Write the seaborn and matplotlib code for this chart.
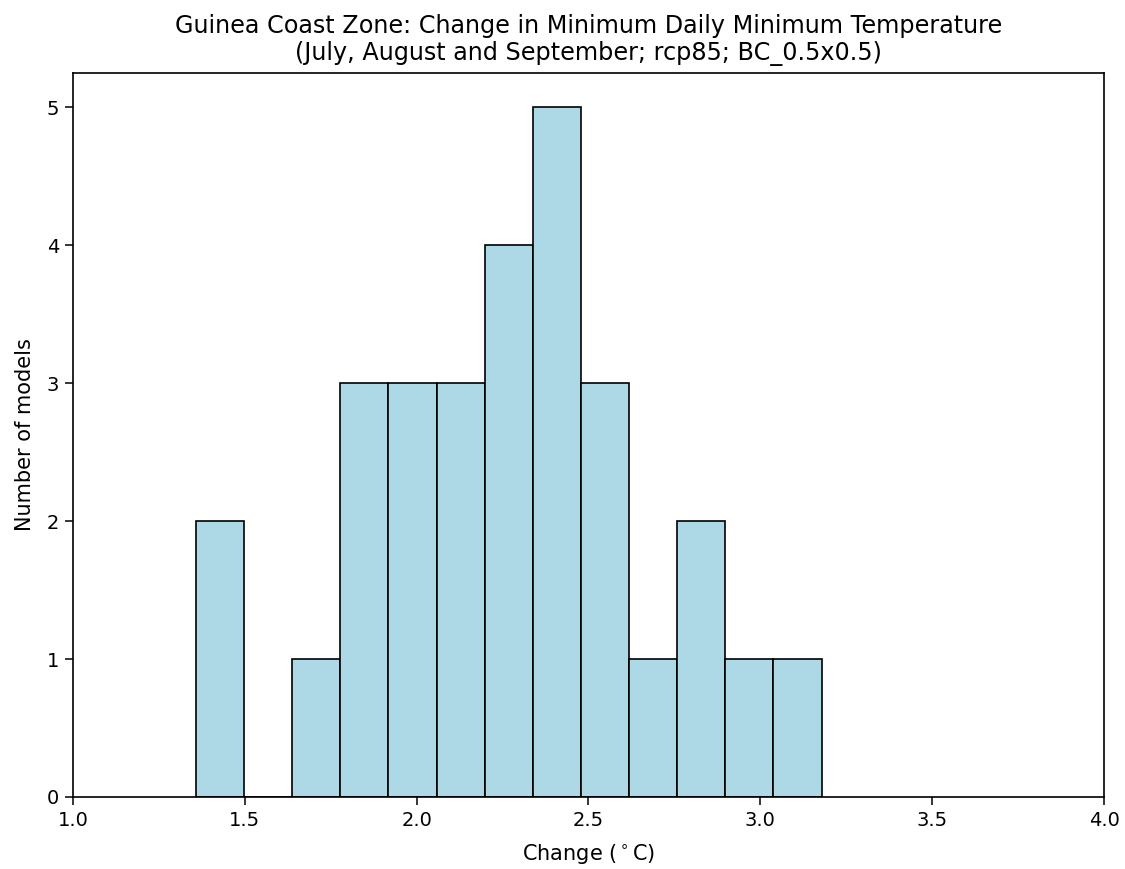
import matplotlib
matplotlib.use("Agg")
import matplotlib.pyplot as plt
import seaborn as sns
import numpy as np

# Bin edges (°C) and counts
bin_edges = [1.358, 1.498, 1.638, 1.778, 1.918, 2.058, 2.198, 2.338,
             2.478, 2.618, 2.758, 2.898, 3.038, 3.178]
counts = [2, 0, 1, 3, 3, 3, 4, 5, 3, 1, 2, 1, 1]
x_ticks = [1.0, 1.5, 2.0, 2.5, 3.0, 3.5, 4.0]
y_ticks = [0, 1, 2, 3, 4, 5]

title = ("Guinea Coast Zone: Change in Minimum Daily Minimum Temperature\n"
         "(July, August and September; rcp85; BC_0.5x0.5)")

centers = [(a + b) / 2 for a, b in zip(bin_edges[:-1], bin_edges[1:])]

plt.rcParams['font.family'] = ['DejaVu Sans']
fig = plt.figure(figsize=(11.25, 8.69), dpi=100)
ax = fig.add_axes([73/1125, 1 - 797/869, (1104-73)/1125, (797-73)/869])

sns.histplot(x=centers, weights=counts, bins=bin_edges, ax=ax,
             color="lightblue", edgecolor="black", linewidth=1.2, alpha=1)

ax.set_xlim(1.0, 4.0)
ax.set_ylim(0, 5.25)
ax.set_xticks(x_ticks)
ax.set_xticklabels([f"{v:.1f}" for v in x_ticks])
ax.set_yticks(y_ticks)
ax.tick_params(labelsize=14, length=6, width=1.1, direction='out', pad=4)
for s in ax.spines.values():
    s.set_linewidth(1.2)
    s.set_color('black')
ax.set_xlabel("Change ($^\\circ$C)", fontsize=15, labelpad=9)
ax.set_ylabel("Number of models", fontsize=15, labelpad=8)
ax.set_title(title, fontsize=17.2, pad=9)

fig.savefig("out.png", dpi=100)
